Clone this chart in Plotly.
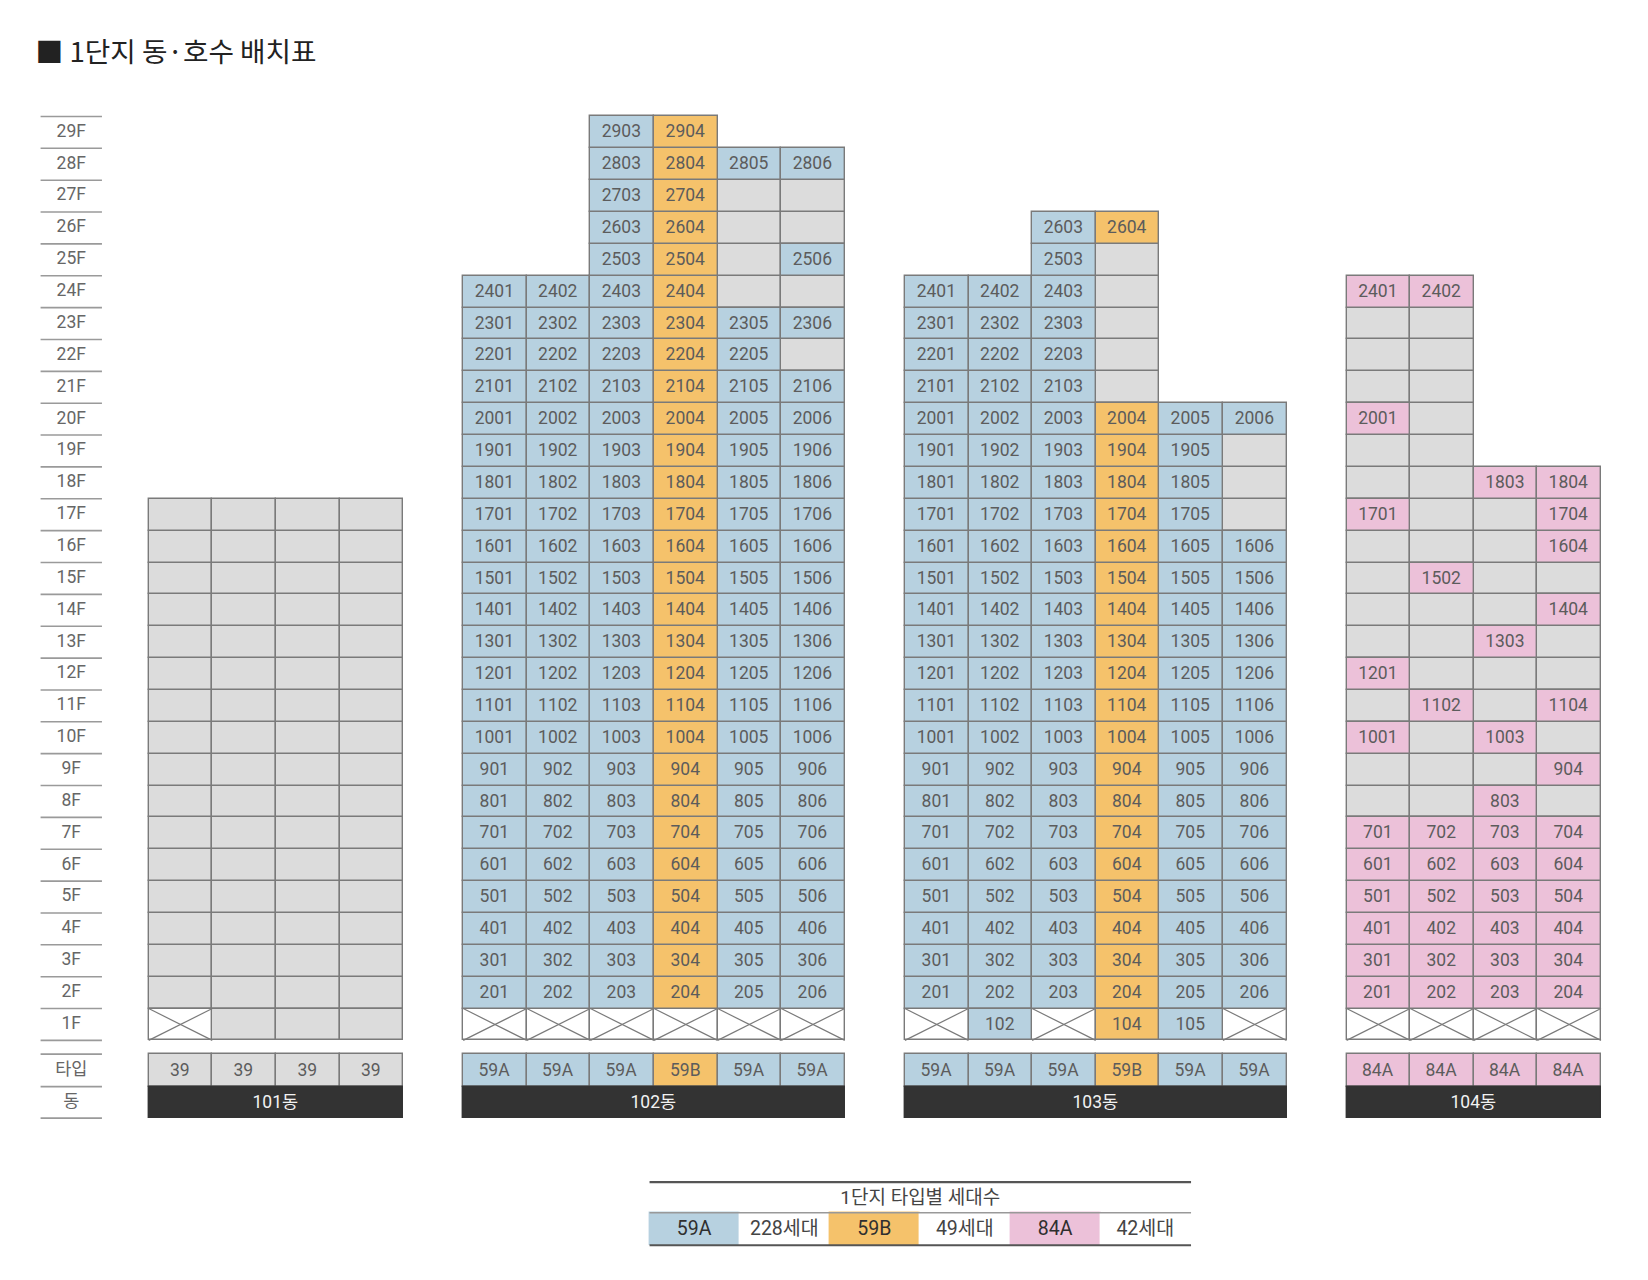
import plotly.graph_objects as go

# --- Data ---
# row strings per floor: . no cell, g empty grey, u unit with number, x crossed out
DONG_NAMES = ["101동", "102동", "103동", "104동"]
COL_TYPES = [
    ["39", "39", "39", "39"],
    ["59A", "59A", "59A", "59B", "59A", "59A"],
    ["59A", "59A", "59A", "59B", "59A", "59A"],
    ["84A", "84A", "84A", "84A"],
]
FLOOR_LABELS = [f"{f}F" for f in range(1, 30)]

ROWS_101 = {f: "gggg" for f in range(2, 18)}
ROWS_101[1] = "xggg"

ROWS_102 = {f: "uuuuuu" for f in range(2, 22)}
ROWS_102.update({
    1: "xxxxxx", 22: "uuuuug", 23: "uuuuuu", 24: "uuuugg", 25: "..uugu",
    26: "..uugg", 27: "..uugg", 28: "..uuuu", 29: "..uu..",
})

ROWS_103 = {f: "uuuuuu" for f in range(2, 17)}
ROWS_103.update({
    1: "xuxuux", 17: "uuuuug", 18: "uuuuug", 19: "uuuuug", 20: "uuuuuu",
    21: "uuug..", 22: "uuug..", 23: "uuug..", 24: "uuug..", 25: "..ug..", 26: "..uu..",
})

ROWS_104 = {f: "uuuu" for f in range(2, 8)}
ROWS_104.update({
    1: "xxxx", 8: "ggug", 9: "gggu", 10: "ugug",
    11: "gugu", 12: "uggg", 13: "ggug", 14: "gggu", 15: "gugg", 16: "gggu",
    17: "uggu", 18: "gguu", 19: "gg..", 20: "ug..", 21: "gg..", 22: "gg..",
    23: "gg..", 24: "uu..",
})
ALL_ROWS = [ROWS_101, ROWS_102, ROWS_103, ROWS_104]

LEGEND_TITLE = "1단지 타입별 세대수"
LEGEND_TYPES = ["59A", "59B", "84A"]
LEGEND_COUNTS = ["228세대", "49세대", "42세대"]

COLORS = {"39": "#dcdcdc", "59A": "#b7d1e0", "59B": "#f5c26b", "84A": "#ecc1d9"}
GREY = "#dcdcdc"
EDGE = "#7a7a7a"
TEXT = "#5c5c5c"
FONT = "Roboto, 'Noto Sans CJK KR'"

# --- Layout in axis units (1 column = 63.6px, 1 floor = 31.86px) ---
COL_W, ROW_H = 63.6, 31.86
LEFT_PX, BASE_PX = 148.7, 1040.4
DONG_GAP = 0.945

fig = go.Figure()


def add_cells(xs, bases, texts, color, heights=None, widths=None, edge=EDGE, text_color=TEXT, size=17.5):
    fig.add_trace(go.Bar(
        x=xs, y=heights or [1] * len(xs), base=bases, width=widths or [1] * len(xs),
        text=texts, textposition="inside", insidetextanchor="middle", textangle=0,
        constraintext="none", textfont=dict(family=FONT, size=size, color=text_color),
        marker=dict(color=color, line=dict(color=edge, width=1.4)),
        hoverinfo="skip",
    ))


def add_lines(segments, color, width):
    xs, ys = [], []
    for x0, x1, y in segments:
        xs += [x0, x1, None]
        ys += [y, y, None]
    fig.add_trace(go.Scatter(x=xs, y=ys, mode="lines", line=dict(color=color, width=width), hoverinfo="skip"))


# Unit cells, one trace per fill colour
cells = {}
cross_x, cross_y = [], []
start = 0
starts = []
for rows, types in zip(ALL_ROWS, COL_TYPES):
    starts.append(start)
    for floor, row in rows.items():
        for i, code in enumerate(row):
            cx = start + i + 0.5
            if code == "u":
                c = cells.setdefault(COLORS[types[i]], ([], [], []))
                c[0].append(cx), c[1].append(floor - 1), c[2].append(f"{floor}{i + 1:02d}")
            elif code == "g":
                c = cells.setdefault(GREY, ([], [], []))
                c[0].append(cx), c[1].append(floor - 1), c[2].append("")
            elif code == "x":
                c = cells.setdefault("#ffffff", ([], [], []))
                c[0].append(cx), c[1].append(floor - 1), c[2].append("")
                cross_x += [cx - 0.5, cx + 0.5, None, cx - 0.5, cx + 0.5, None]
                cross_y += [floor - 1, floor, None, floor, floor - 1, None]
    start += len(types) + DONG_GAP

for color, (xs, bases, texts) in cells.items():
    add_cells(xs, bases, texts, color)

fig.add_trace(go.Scatter(x=cross_x, y=cross_y, mode="lines", line=dict(color=EDGE, width=1.2), hoverinfo="skip"))

# Type row and dark dong row under each building
TYPE_BASE, TYPE_H = -1.45, 1.02
DONG_BASE, DONG_H = -2.44, 0.99
for s, types, name in zip(starts, COL_TYPES, DONG_NAMES):
    for i, t in enumerate(types):
        add_cells([s + i + 0.5], [TYPE_BASE], [t], COLORS[t], heights=[TYPE_H])
    n = len(types)
    add_cells([s + n / 2], [DONG_BASE], [name], "#333333", heights=[DONG_H], widths=[n],
              edge="#333333", text_color="#f2f2f2")

# Floor labels on the left
LABEL_L, LABEL_R = -1.70, -0.735
label_mid = (LABEL_L + LABEL_R) / 2
fig.add_trace(go.Scatter(
    x=[label_mid] * (len(FLOOR_LABELS) + 2),
    y=[f - 0.5 for f in range(1, 30)] + [TYPE_BASE + TYPE_H / 2, DONG_BASE + DONG_H / 2],
    text=FLOOR_LABELS + ["타입", "동"], mode="text",
    textfont=dict(family=FONT, size=17.5, color="#666666"), hoverinfo="skip",
))
rule_levels = list(range(0, 30)) + [TYPE_BASE + TYPE_H, TYPE_BASE, DONG_BASE]
add_lines([(LABEL_L, LABEL_R, y) for y in rule_levels], "#9a9a9a", 1.6)

# Legend table below
LEG_X, LEG_W = 7.875, 1.419
LEG_TOP, LEG_MID, LEG_BOTTOM = -4.45, -5.41, -6.43
for i, (t, count) in enumerate(zip(LEGEND_TYPES, LEGEND_COUNTS)):
    x = LEG_X + 2 * i * LEG_W
    add_cells([x + LEG_W / 2], [LEG_BOTTOM], [t], COLORS[t], heights=[LEG_MID - LEG_BOTTOM], widths=[LEG_W],
              edge=COLORS[t], text_color="#2f2f2f", size=19.5)
    add_cells([x + 1.5 * LEG_W], [LEG_BOTTOM], [count], "#ffffff", heights=[LEG_MID - LEG_BOTTOM], widths=[LEG_W],
              edge="#ffffff", text_color="#444444", size=19.5)
leg_right = LEG_X + 6 * LEG_W
fig.add_trace(go.Scatter(
    x=[(LEG_X + leg_right) / 2], y=[(LEG_TOP + LEG_MID) / 2 - 0.06], text=[LEGEND_TITLE], mode="text",
    textfont=dict(family=FONT, size=19, color="#444444"), hoverinfo="skip",
))
add_lines([(LEG_X, leg_right, LEG_TOP), (LEG_X, leg_right, LEG_BOTTOM)], "#555555", 2.2)
add_lines([(LEG_X, leg_right, LEG_MID)], "#999999", 1.6)

fig.update_layout(
    width=1648, height=1280,
    margin=dict(l=0, r=0, t=0, b=0),
    barmode="overlay", bargap=0, showlegend=False,
    plot_bgcolor="white", paper_bgcolor="white",
    title=dict(text="■ 1단지 동·호수 배치표", x=35.5 / 1648, xanchor="left", y=1 - 52 / 1280, yanchor="middle",
               font=dict(family="'Noto Sans CJK KR'", size=27.7, color="#222222")),
    xaxis=dict(visible=False, range=[-LEFT_PX / COL_W, (1648 - LEFT_PX) / COL_W]),
    yaxis=dict(visible=False, range=[(BASE_PX - 1280) / ROW_H, BASE_PX / ROW_H]),
)

fig.write_html("out.html", config=dict(displayModeBar=False), post_script="document.body.style.margin='0';")
